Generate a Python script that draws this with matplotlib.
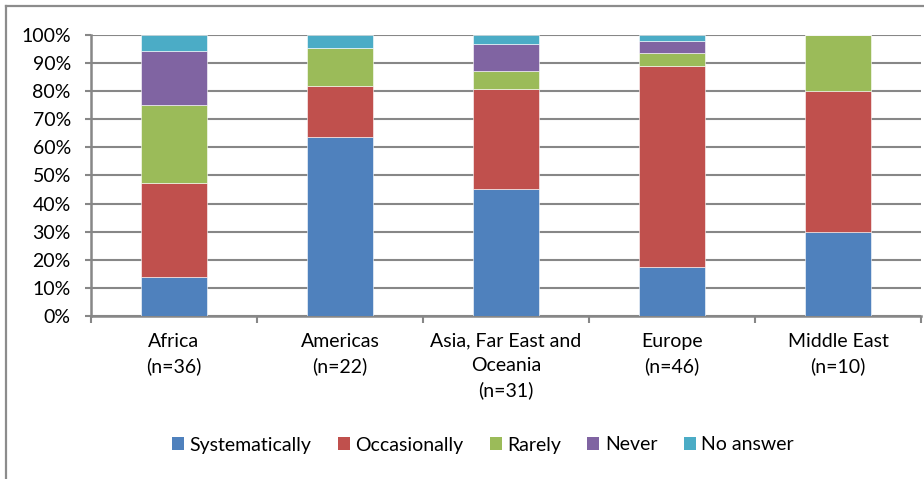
"""Stacked 100% bars: how often each region answers, by response category."""

import matplotlib.pyplot as plt
import numpy as np
from matplotlib.lines import Line2D
from matplotlib.patches import Patch
from matplotlib.ticker import FuncFormatter, MultipleLocator

plt.rcParams["font.family"] = ["Lato", "DejaVu Sans"]

regions = ["Africa\n(n=36)", "Americas\n(n=22)",
           "Asia, Far East and\nOceania\n(n=31)", "Europe\n(n=46)",
           "Middle East\n(n=10)"]
sample_sizes = [36, 22, 31, 46, 10]

categories = ["Systematically", "Occasionally", "Rarely", "Never", "No answer"]
# respondent counts per region, one list per category
systematically = [5, 14, 14, 8, 3]
occasionally = [12, 4, 11, 33, 5]
rarely = [10, 3, 2, 2, 2]
never = [7, 0, 3, 2, 0]
no_answer = [2, 1, 1, 1, 0]

colors = ["#4F81BD", "#C0504D", "#9BBB59", "#8064A2", "#4BACC6"]
GRID = "#878787"
FS = 14

W, H = 924, 479
fig = plt.figure(figsize=(W / 100, H / 100), dpi=100)
ax = fig.add_axes([91 / W, 1 - 316 / H, (921 - 91) / W, (316 - 35) / H])

x = np.arange(len(regions))
n = np.array(sample_sizes, dtype=float)
bottom = np.zeros(len(regions))
for counts, color in zip([systematically, occasionally, rarely, never, no_answer], colors):
    share = np.array(counts) / n
    ax.bar(x, share, 0.4, bottom=bottom, color=color, edgecolor="white",
           linewidth=0.4, zorder=3)
    bottom += share

ax.set_xlim(-0.5, len(regions) - 0.5)
ax.set_ylim(0, 1)
ax.yaxis.set_major_locator(MultipleLocator(0.1))
ax.yaxis.set_major_formatter(FuncFormatter(lambda v, _p: f"{v * 100:.0f}%"))
ax.grid(axis="y", color=GRID, linewidth=1.5, zorder=0)

ax.set_xticks(x, regions, linespacing=1.5)
ax.set_xticks(np.arange(len(regions) + 1) - 0.5, minor=True)
ax.tick_params(axis="x", which="major", length=0, pad=12, labelsize=FS)
ax.tick_params(axis="x", which="minor", length=5, width=1.5, color=GRID)
ax.tick_params(axis="y", length=4.5, width=1.5, color=GRID, pad=10, labelsize=FS)

for side in ("top", "right"):
    ax.spines[side].set_visible(False)
for side in ("left", "bottom"):
    ax.spines[side].set_color(GRID)
    ax.spines[side].set_linewidth(1.8)

handles = [Patch(facecolor=c, edgecolor="none") for c in colors]
fig.legend(handles, categories, loc="center", bbox_to_anchor=(483 / W, 1 - 445 / H),
           ncol=5, frameon=False, fontsize=FS, handlelength=0.62,
           handleheight=0.62, handletextpad=0.28, columnspacing=1.35)

# outer chart frame (left and top edges)
fig.add_artist(Line2D([6 / W, 6 / W], [0, 1 - 6 / H], transform=fig.transFigure,
                      color="#8c8c8c", linewidth=1.6))
fig.add_artist(Line2D([6 / W, 1], [1 - 6 / H, 1 - 6 / H], transform=fig.transFigure,
                      color="#8c8c8c", linewidth=1.6))

fig.savefig("out.png", dpi=100)
